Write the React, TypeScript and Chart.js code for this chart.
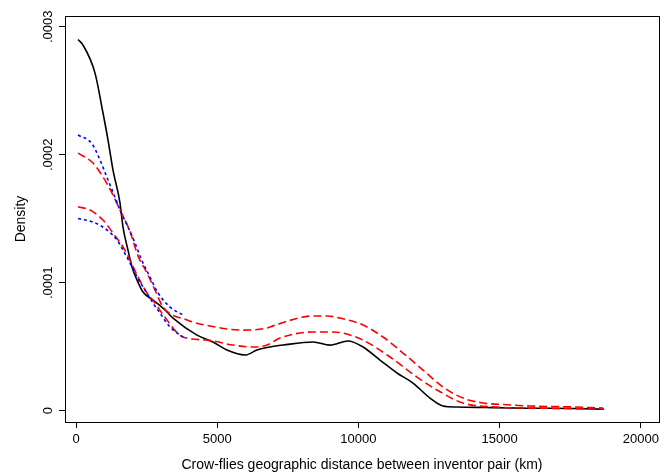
import React, { useEffect, useRef } from "react";
import { Chart, registerables } from "chart.js";

Chart.register(...registerables);

// Kernel density (black solid)
const densX = [71, 248, 673, 956, 1133, 1310, 1558, 1664, 1841, 1983, 2160, 2372, 2727, 3151, 3435, 4285, 4851, 5347, 5984, 6409, 6870, 7330, 8392, 8994, 9632, 10163, 10765, 11367, 11933, 12535, 12995, 13491, 14500, 16000, 17500, 18700];
const densY = [0.000290, 0.0002857, 0.0002638, 0.0002326, 0.0002115, 0.000188, 0.0001623, 0.0001435, 0.0001255, 0.0001123, 0.0001021, 0.0000927, 0.0000865, 0.0000787, 0.0000724, 0.0000591, 0.0000537, 0.0000474, 0.0000435, 0.0000474, 0.0000498, 0.0000513, 0.0000537, 0.0000513, 0.0000545, 0.0000498, 0.0000396, 0.0000295, 0.0000216, 0.0000099, 0.0000037, 0.0000029, 0.0000025, 0.000002, 0.0000018, 0.0000012];

// Upper confidence band (red dashed)
const redUpX = [71, 602, 956, 1275, 1558, 1912, 2195, 2514, 2797, 3081, 3931, 4745, 5913, 6763, 7000, 8392, 8888, 9348, 10163, 10871, 11579, 12287, 12995, 13703, 14412, 15000, 16076, 17500, 18661];
const redUpY = [0.0002013, 0.0001935, 0.0001826, 0.0001701, 0.0001568, 0.000140, 0.000121, 0.0001076, 0.0000943, 0.000081, 0.0000709, 0.0000662, 0.000063, 0.0000646, 0.0000665, 0.000074, 0.000074, 0.0000724, 0.000067, 0.0000576, 0.0000451, 0.0000318, 0.0000185, 0.0000099, 0.000006, 0.000005, 0.0000037, 0.000003, 0.0000021];

// Lower confidence band (red dashed)
const redLoX = [71, 496, 956, 1310, 1664, 1912, 2195, 2514, 2797, 3100, 3789, 4639, 5559, 6267, 6763, 7224, 8392, 9100, 9455, 10163, 11119, 12075, 12783, 13703, 14908, 16500, 18661];
const redLoY = [0.0001594, 0.0001568, 0.000149, 0.0001388, 0.0001279, 0.0001177, 0.0001045, 0.000092, 0.0000841, 0.0000745, 0.0000576, 0.0000552, 0.0000513, 0.0000498, 0.0000513, 0.0000568, 0.0000615, 0.0000615, 0.0000607, 0.0000552, 0.000042, 0.0000263, 0.0000162, 0.000006, 0.0000029, 0.000002, 0.0000013];

// Upper band, alternative (blue dotted)
const blueUpX = [71, 556, 850, 1087, 1321, 1558, 1841, 2089, 2326, 2620, 2904, 3329, 3789];
const blueUpY = [0.0002154, 0.0002089, 0.0001959, 0.0001828, 0.0001701, 0.0001568, 0.0001435, 0.000131, 0.0001177, 0.0001045, 0.000092, 0.000081, 0.0000748];

// Lower band, alternative (blue dotted)
const blueLoX = [71, 602, 1098, 1452, 1664, 1912, 2160, 2443, 2727, 2974, 3329, 3789];
const blueLoY = [0.0001502, 0.0001474, 0.0001412, 0.0001334, 0.0001255, 0.0001154, 0.0001045, 0.0000943, 0.0000841, 0.0000763, 0.0000654, 0.0000576];

const xTicks = [0, 5000, 10000, 15000, 20000];
const yTicks = [0, 0.0001, 0.0002, 0.0003];
const yTickLabels = ["0", ".0001", ".0002", ".0003"];
const xTitle = "Crow-flies geographic distance between inventor pair (km)";
const yTitle = "Density";

const pts = (xs: number[], ys: number[]) => xs.map((x, i) => ({ x, y: ys[i] }));

const FONT = "'Liberation Sans', Arial, Helvetica, sans-serif";

export default function App() {
  const ref = useRef<HTMLCanvasElement | null>(null);
  useEffect(() => {
    if (!ref.current) return;
    const boxPlugin = {
      id: "boxAndYLabels",
      afterDraw(chart: any) {
        const { ctx, chartArea } = chart;
        ctx.save();
        ctx.strokeStyle = "#000";
        ctx.lineWidth = 1;
        ctx.strokeRect(
          Math.round(chartArea.left) + 0.5,
          Math.round(chartArea.top) + 0.5,
          Math.round(chartArea.right - chartArea.left),
          Math.round(chartArea.bottom - chartArea.top)
        );
        const ys = chart.scales.y;
        ctx.fillStyle = "#000";
        ctx.font = "13px " + FONT;
        ctx.textAlign = "center";
        ctx.textBaseline = "middle";
        yTicks.forEach((v, i) => {
          const py = ys.getPixelForValue(v);
          ctx.save();
          ctx.translate(48, py);
          ctx.rotate(-Math.PI / 2);
          ctx.fillText(yTickLabels[i], 0, 0);
          ctx.restore();
        });
        ctx.restore();
      },
    };
    const common = { pointRadius: 0, fill: false, cubicInterpolationMode: "monotone" as const };
    const chart = new Chart(ref.current, {
      type: "line",
      data: {
        datasets: [
          { ...common, label: "blueUp", data: pts(blueUpX, blueUpY), borderColor: "#0000ff", borderWidth: 1.6, borderDash: [3, 3] },
          { ...common, label: "blueLo", data: pts(blueLoX, blueLoY), borderColor: "#0000ff", borderWidth: 1.6, borderDash: [3, 3] },
          { ...common, label: "redUp", data: pts(redUpX, redUpY), borderColor: "#ff0000", borderWidth: 1.6, borderDash: [8, 4] },
          { ...common, label: "redLo", data: pts(redLoX, redLoY), borderColor: "#ff0000", borderWidth: 1.6, borderDash: [8, 4] },
          { ...common, label: "density", data: pts(densX, densY), borderColor: "#000000", borderWidth: 1.6 },
        ],
      },
      options: {
        animation: false,
        responsive: false,
        parsing: false as any,
        layout: { padding: { left: 0, right: 7, top: 16, bottom: 0 } },
        plugins: { legend: { display: false }, tooltip: { enabled: false } },
        scales: {
          x: {
            type: "linear",
            min: -390,
            max: 20644,
            afterBuildTicks: (s: any) => { s.ticks = xTicks.map((v) => ({ value: v })); },
            afterFit: (s: any) => { s.height = 54; },
            grid: { display: true, drawOnChartArea: false, drawTicks: true, tickLength: 6, color: "#000", lineWidth: 1 },
            border: { display: false },
            ticks: { color: "#000", font: { family: FONT, size: 13 }, padding: 4, maxRotation: 0, minRotation: 0, callback: (v: any) => String(v) },
            title: { display: true, text: xTitle, color: "#000", font: { family: FONT, size: 14 }, padding: { top: 0, bottom: 2 } },
          },
          y: {
            type: "linear",
            min: -0.0000088,
            max: 0.0003084,
            afterBuildTicks: (s: any) => { s.ticks = yTicks.map((v) => ({ value: v })); },
            afterFit: (s: any) => { s.width = 65; },
            grid: { display: true, drawOnChartArea: false, drawTicks: true, tickLength: 6, color: "#000", lineWidth: 1 },
            border: { display: false },
            ticks: { display: false },
            title: { display: true, text: yTitle, color: "#000", font: { family: FONT, size: 14 }, padding: { top: 13, bottom: 0 } },
          },
        },
      },
      plugins: [boxPlugin],
    });
    return () => chart.destroy();
  }, []);
  return (
    <div style={{ position: "fixed", left: 0, top: 0, width: 666, height: 476, background: "#fff" }}>
      <canvas ref={ref} width={666} height={476} style={{ display: "block", width: 666, height: 476 }} />
    </div>
  );
}
